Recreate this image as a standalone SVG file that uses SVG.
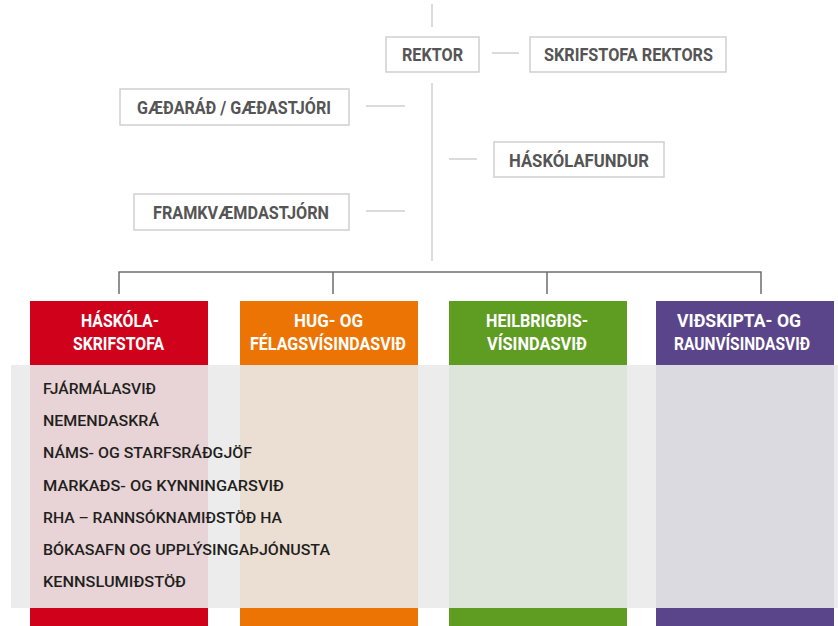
<svg xmlns="http://www.w3.org/2000/svg" width="838" height="626" viewBox="0 0 838 626">
<style>
.box{fill:#fff;stroke:#cfcfcf;stroke-width:1.5}
.bt{font-family:Roboto,"Liberation Sans",Arial,sans-serif;font-weight:bold;font-size:18px;fill:#555}
.ht{font-family:Roboto,"Liberation Sans",Arial,sans-serif;font-weight:bold;font-size:17.5px;fill:#fff}
.lt{font-family:Roboto,"Liberation Sans",Arial,sans-serif;font-weight:500;font-size:15px;fill:#231f20}
.lc{stroke:#cfcfcf;stroke-width:1.5;fill:none}
.dc{stroke:#6d6d6d;stroke-width:1.5;fill:none}
</style>
<rect width="838" height="626" fill="#fff"/>
<g id="connectors">
<line class="lc" x1="432" y1="4" x2="432" y2="27"/>
<line class="lc" x1="432" y1="83" x2="432" y2="261"/>
<line class="lc" x1="492" y1="53" x2="519" y2="53"/>
<line class="lc" x1="366" y1="106" x2="405" y2="106"/>
<line class="lc" x1="449" y1="159" x2="477" y2="159"/>
<line class="lc" x1="366" y1="211" x2="405" y2="211"/>
<path class="dc" d="M119 294V272H761V294M333 272V294M547 272V294"/>
</g>
<g id="band"><rect x="11" y="365" width="827" height="243" fill="#ebeceb"/></g>
<g id="rektor"><rect class="box" x="386" y="37" width="93" height="35"/><text class="bt" x="402" y="61" textLength="61" lengthAdjust="spacingAndGlyphs">REKTOR</text></g>
<g id="skrifstofa-rektors"><rect class="box" x="530" y="37" width="196" height="35"/><text class="bt" x="544" y="61" textLength="169" lengthAdjust="spacingAndGlyphs">SKRIFSTOFA REKTORS</text></g>
<g id="gaedarad"><rect class="box" x="120" y="89" width="229" height="36"/><text class="bt" x="137" y="114" textLength="194" lengthAdjust="spacingAndGlyphs">GÆÐARÁÐ / GÆÐASTJÓRI</text></g>
<g id="haskolafundur"><rect class="box" x="494" y="142" width="170" height="35"/><text class="bt" x="509" y="167" textLength="140" lengthAdjust="spacingAndGlyphs">HÁSKÓLAFUNDUR</text></g>
<g id="framkvaemdastjorn"><rect class="box" x="134" y="194" width="215" height="36"/><text class="bt" x="153" y="219" textLength="176" lengthAdjust="spacingAndGlyphs">FRAMKVÆMDASTJÓRN</text></g>
<g id="hug-og-felagsvisindasvid">
<rect x="240" y="301" width="178" height="64" fill="#ec7404"/>
<rect x="240" y="365" width="178" height="243" fill="#ebdfd4"/>
<rect x="240" y="608" width="178" height="18" fill="#ec7404"/>
<text class="ht" x="294" y="327" textLength="69" lengthAdjust="spacingAndGlyphs">HUG- OG</text>
<text class="ht" x="250" y="350" textLength="156" lengthAdjust="spacingAndGlyphs">FÉLAGSVÍSINDASVIÐ</text>
</g>
<g id="heilbrigdisvisindasvid">
<rect x="449" y="301" width="178" height="64" fill="#5f9c22"/>
<rect x="449" y="365" width="178" height="243" fill="#dde4da"/>
<rect x="449" y="608" width="178" height="18" fill="#5f9c22"/>
<text class="ht" x="486" y="327" textLength="102" lengthAdjust="spacingAndGlyphs">HEILBRIGÐIS-</text>
<text class="ht" x="487" y="350" textLength="100" lengthAdjust="spacingAndGlyphs">VÍSINDASVIÐ</text>
</g>
<g id="vidskipta-og-raunvisindasvid">
<rect x="656" y="301" width="178" height="64" fill="#5b458a"/>
<rect x="656" y="365" width="178" height="243" fill="#dbdae0"/>
<rect x="656" y="608" width="178" height="18" fill="#5b458a"/>
<text class="ht" x="677" y="327" textLength="124" lengthAdjust="spacingAndGlyphs">VIÐSKIPTA- OG</text>
<text class="ht" x="674" y="350" textLength="136" lengthAdjust="spacingAndGlyphs">RAUNVÍSINDASVIÐ</text>
</g>
<g id="haskolaskrifstofa">
<rect x="30" y="301" width="178" height="64" fill="#d0021b"/>
<rect x="30" y="365" width="178" height="243" fill="#e8d4d7"/>
<rect x="30" y="608" width="178" height="18" fill="#d0021b"/>
<text class="ht" x="81" y="327" textLength="78" lengthAdjust="spacingAndGlyphs">HÁSKÓLA-</text>
<text class="ht" x="73" y="350" textLength="91" lengthAdjust="spacingAndGlyphs">SKRIFSTOFA</text>
<text class="lt" x="43" y="394" textLength="113" lengthAdjust="spacingAndGlyphs">FJÁRMÁLASVIÐ</text>
<text class="lt" x="43" y="426" textLength="116" lengthAdjust="spacingAndGlyphs">NEMENDASKRÁ</text>
<text class="lt" x="43" y="458" textLength="209" lengthAdjust="spacingAndGlyphs">NÁMS- OG STARFSRÁÐGJÖF</text>
<text class="lt" x="43" y="491" textLength="241" lengthAdjust="spacingAndGlyphs">MARKAÐS- OG KYNNINGARSVIÐ</text>
<text class="lt" x="43" y="523" textLength="239" lengthAdjust="spacingAndGlyphs">RHA – RANNSÓKNAMIÐSTÖÐ HA</text>
<text class="lt" x="43" y="555" textLength="287" lengthAdjust="spacingAndGlyphs">BÓKASAFN OG UPPLÝSINGAÞJÓNUSTA</text>
<text class="lt" x="43" y="587" textLength="143" lengthAdjust="spacingAndGlyphs">KENNSLUMIÐSTÖÐ</text>
</g>
</svg>
